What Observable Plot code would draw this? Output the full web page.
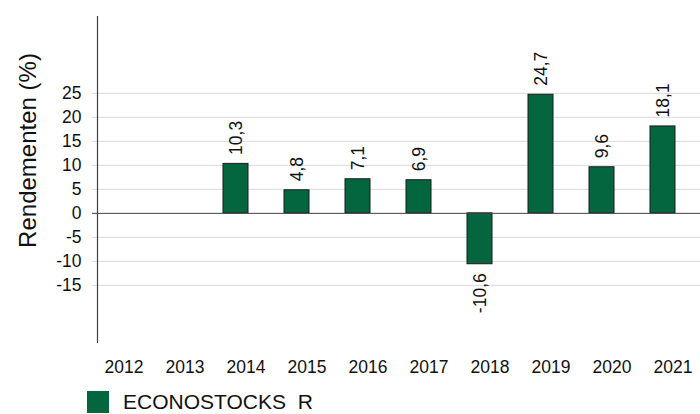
<!DOCTYPE html>
<html>
<head>
<meta charset="utf-8">
<script src="https://cdn.jsdelivr.net/npm/d3@7"></script>
<script src="https://cdn.jsdelivr.net/npm/@observablehq/plot@0.6"></script>
<style>
  html, body { margin: 0; padding: 0; background: #fff; }
  body { width: 700px; height: 414px; position: relative; overflow: hidden; font-family: "Liberation Sans", Arial, sans-serif; }
  #legend-swatch { position: absolute; left: 87px; top: 391px; width: 22px; height: 22px; background: #04663f; }
  #legend-label { position: absolute; left: 123px; top: 390px; font-size: 21px; line-height: 24px; height: 24px; color: #111; white-space: pre; }
</style>
</head>
<body>
<div id="chart"></div>
<div id="legend-swatch"></div>
<div id="legend-label"></div>
<script>
const years = ["2012", "2013", "2014", "2015", "2016", "2017", "2018", "2019", "2020", "2021"];
const returns = [null, null, 10.3, 4.8, 7.1, 6.9, -10.6, 24.7, 9.6, 18.1];
const yTicks = [-15, -10, -5, 0, 5, 10, 15, 20, 25];
const seriesName = "ECONOSTOCKS  R";
const yTitle = "Rendementen (%)";

const data = years.map((year, i) => ({year, value: returns[i]})).filter(d => d.value != null);
const fmt = v => v.toFixed(1).replace(".", ",");
const green = "#04663f";

const chart = Plot.plot({
  width: 700,
  height: 385,
  marginLeft: 97,
  marginRight: 0,
  marginTop: 16,
  marginBottom: 43,
  style: {fontFamily: "'Liberation Sans', Arial, sans-serif", background: "white", color: "#111"},
  x: {type: "band", domain: years, range: [82.05, 693.05], paddingInner: 0.59, paddingOuter: 0.295},
  y: {domain: [-26.9, 41.0]},
  marks: [
    Plot.ruleY(yTicks.filter(t => t !== 0), {stroke: "#d9d9d9", strokeWidth: 1, insetLeft: -5}),
    Plot.barY(data, {x: "year", y: "value", fill: green, stroke: "#1a1a1a", strokeWidth: 1}),
    Plot.ruleY([0], {stroke: "#404040", strokeWidth: 1, insetLeft: -5}),
    Plot.frame({anchor: "left", stroke: "#404040", strokeWidth: 1.2}),
    Plot.text(data.filter(d => d.value >= 0), {x: "year", y: "value", text: d => fmt(d.value), rotate: -90, textAnchor: "start", dy: -9, fontSize: 17.5, fill: "#111"}),
    Plot.text(data.filter(d => d.value < 0), {x: "year", y: "value", text: d => fmt(d.value), rotate: -90, textAnchor: "end", dy: 9, fontSize: 17.5, fill: "#111"}),
    Plot.axisY({ticks: yTicks, tickSize: 0, tickPadding: 16, tickFormat: d => String(d), fontSize: 17.5, label: null}),
    Plot.axisX({tickSize: 0, tickPadding: 18, dx: 10, fontSize: 17.5, label: null}),
    Plot.text([yTitle], {frameAnchor: "left", textAnchor: "middle", rotate: -90, dx: -69, dy: -29, fontSize: 24, fill: "#111"})
  ]
});
document.getElementById("chart").appendChild(chart);
document.getElementById("legend-label").textContent = seriesName;
</script>
</body>
</html>
